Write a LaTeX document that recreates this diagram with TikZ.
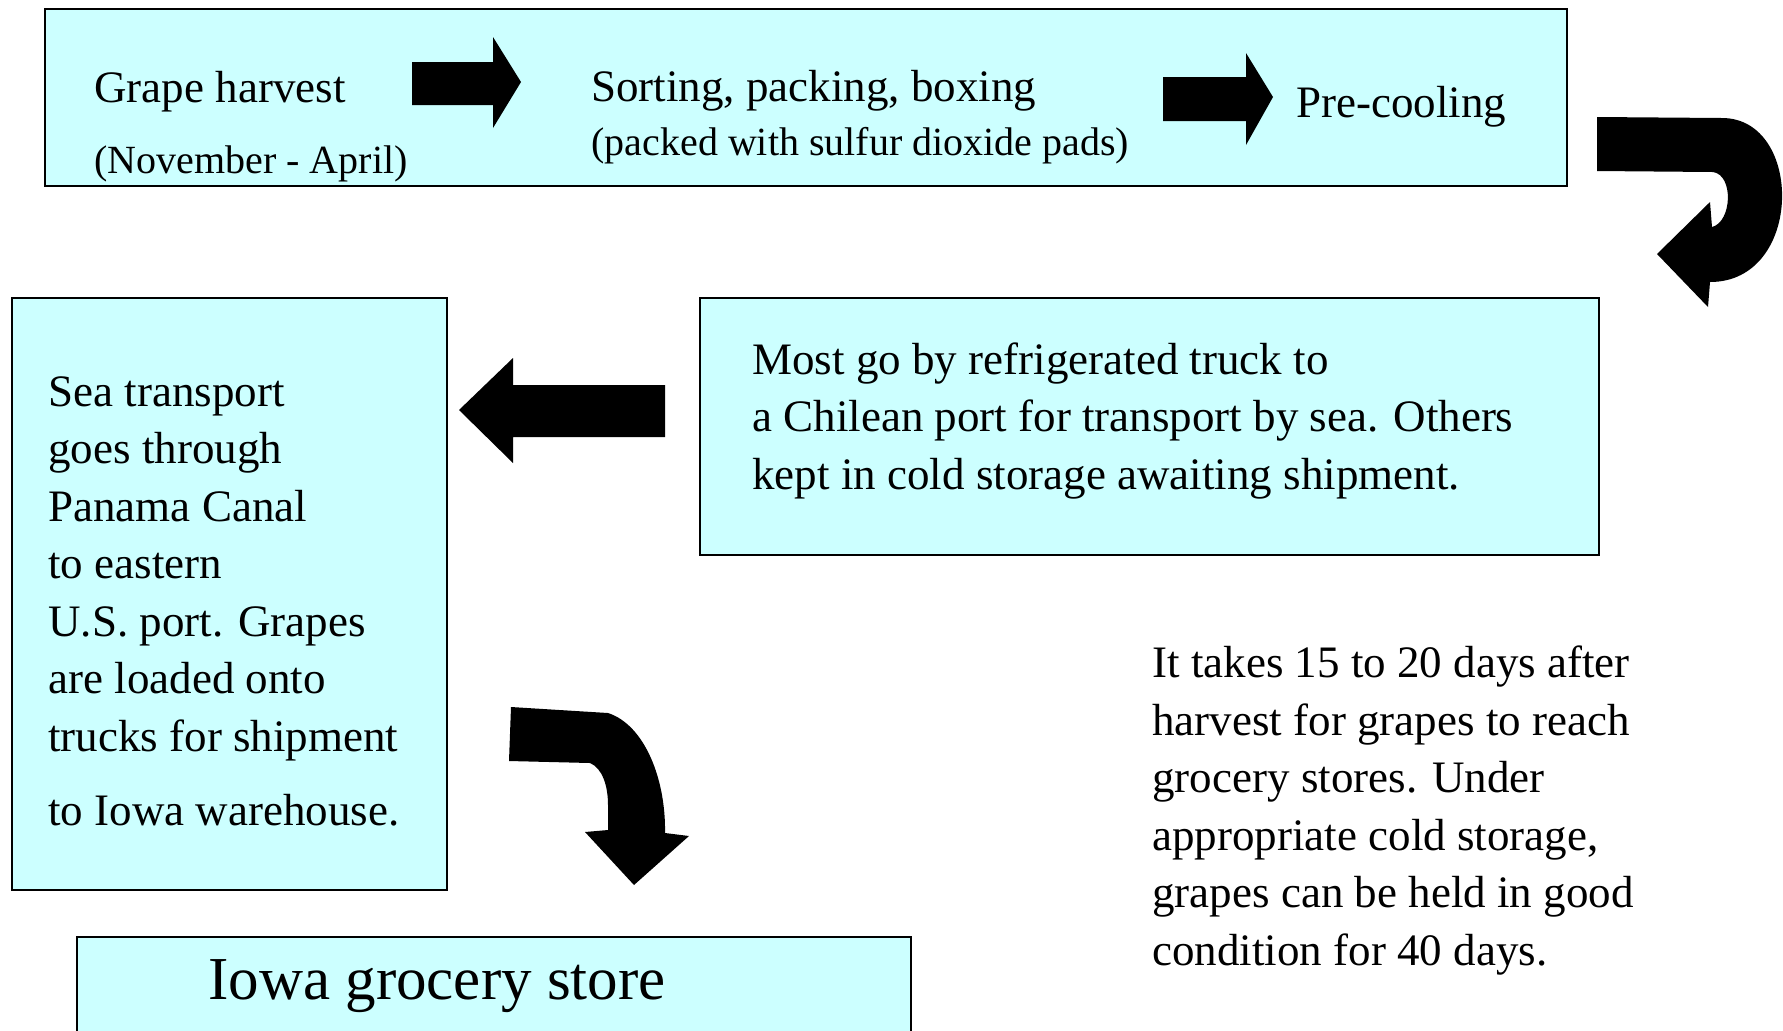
\documentclass[tikz,border=0pt]{standalone}
\usepackage{fontspec}
\setmainfont{Liberation Serif}
\definecolor{boxcyan}{HTML}{CCFFFF}
\newcommand\mainsize{\fontsize{22.5}{28.75}\selectfont}
\newcommand\subsize{\fontsize{20}{24}\selectfont}
\newcommand\storesize{\fontsize{30.5}{36}\selectfont}
\tikzset{
  stagebox/.style={draw=black, line width=1pt, fill=boxcyan, inner sep=0pt, anchor=north west},
  steptext/.style={inner sep=0pt, anchor=base west, font=\mainsize, align=left},
  subtext/.style={inner sep=0pt, anchor=base west, font=\subsize},
  fatarrow/.style={fill=black}
}
\begin{document}
\begin{tikzpicture}[x=0.5pt, y=-0.5pt]
  \useasboundingbox (0,0) rectangle (1783,1030);
  \clip (0,0) rectangle (1783,1030);
    \node[stagebox, minimum width=761pt, minimum height=88.5pt] (toprow) at (44,8) {};
    \node[stagebox, minimum width=449.5pt, minimum height=128.5pt] (trucking) at (699,297) {};
    \node[stagebox, minimum width=217.5pt, minimum height=296pt] (seabox) at (11,297) {};
    \node[stagebox, minimum width=417pt, minimum height=62pt] (storebox) at (76,936) {};
    \node[steptext] (harvest) at (94,102) {Grape harvest};
    \node[subtext] (season) at (94,173) {(November - April)};
    \node[steptext] (sorting) at (591,101) {Sorting, packing, boxing};
    \node[subtext] (pads) at (591,155) {(packed with sulfur dioxide pads)};
    \node[steptext] (precool) at (1296,117) {Pre-cooling};
    \node[steptext] (truck) at (752,489) {Most go by refrigerated truck to\\
      a Chilean port for transport by sea. Others\\
      kept in cold storage awaiting shipment.};
    \node[steptext] (sea) at (48,825) {Sea transport\\ goes through\\ Panama Canal\\
      to eastern\\ U.S. port. Grapes\\ are loaded onto\\ trucks for shipment\\[8.25pt]
      to Iowa warehouse.};
    \node[steptext] (note) at (1152,965) {It takes 15 to 20 days after\\
      harvest for grapes to reach\\ grocery stores. Under\\ appropriate cold storage,\\
      grapes can be held in good\\ condition for 40 days.};
    \node[inner sep=0pt, anchor=base west, font=\storesize] (store) at (208,999) {Iowa grocery store};
  \fill[fatarrow] (412,62) -- (493,62) -- (493,37) -- (521,82) -- (493,128) -- (493,105) -- (412,105) -- cycle;
  \fill[fatarrow] (1163,77) -- (1246,77) -- (1246,53) -- (1273,97) -- (1246,145) -- (1246,121) -- (1163,121) -- cycle;
  \fill[fatarrow] (1597,117) -- (1722,118) .. controls (1804,118) and (1804,282) .. (1710,282)
    -- (1708,307) -- (1657,254) -- (1710,202) -- (1712,227)
    .. controls (1732,222) and (1734,175) .. (1713,172) -- (1597,171) -- cycle;
  \fill[fatarrow] (665,385) -- (513,385) -- (513,358) -- (459,410) -- (513,463) -- (513,437) -- (665,437) -- cycle;
  \fill[fatarrow] (511,707) -- (608,713) .. controls (645,725) and (666,780) .. (665,833)
    -- (689,836) -- (634,885) -- (585,832) -- (608,830) -- (608,805)
    .. controls (608,785) and (602,768) .. (590,763) -- (509,761) -- cycle;
\end{tikzpicture}
\end{document}
